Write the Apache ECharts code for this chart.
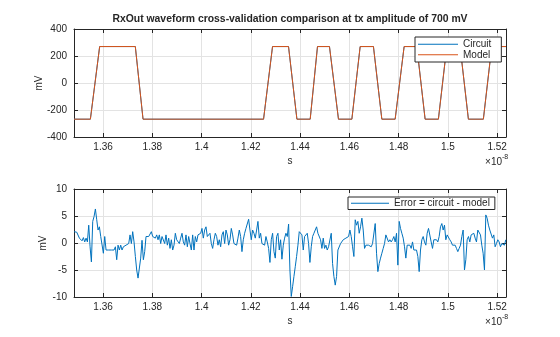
<!DOCTYPE html>
<html>
<head>
<meta charset="utf-8">
<script src="https://cdn.jsdelivr.net/npm/echarts@6/dist/echarts.min.js"></script>
<style>
html,body{margin:0;padding:0;background:#fff;}
#chart{width:560px;height:337px;}
</style>
</head>
<body>
<div id="chart"></div>
<script>
// ---- data (time in units of 1e-8 s) ----
const xTickValues = [1.36, 1.38, 1.40, 1.42, 1.44, 1.46, 1.48, 1.50, 1.52];
const topYTicks = [-400, -200, 0, 200, 400];
const botYTicks = [-10, -5, 0, 5, 10];

// waveform corner times (edge start / edge end)
const wfTime = [1.3482, 1.35485, 1.35862, 1.37310, 1.37623, 1.42516, 1.42881, 1.43530, 1.43871,
  1.44410, 1.44706, 1.45193, 1.45558, 1.46102, 1.46439, 1.46978, 1.47319, 1.47859, 1.48224,
  1.48739, 1.49076, 1.49615, 1.49956, 1.50496, 1.50833, 1.51441, 1.51782, 1.5236];
const wfCircuit = [-268, -268, 270, 270, -268, -268, 270, 270, -268, -268, 270, 270, -268, -268,
  270, 270, -268, -268, 270, 270, -268, -268, 270, 270, -268, -268, 270, 270];
const wfModel = [-268, -268, 270, 270, -268, -268, 270, 270, -268, -268, 270, 270, -268, -268,
  270, 270, -268, -268, 270, 270, -268, -268, 270, 270, -268, -268, 270, 270];

// error samples (mV), sample grid start & step
const errT0 = 1.34823;
const errDt = 0.000541;
const errVals = [
  2.1, 1.8, 2.0, 2.2, 0.9, 1.2, 0.4, 1.0, 0.2, 0.9,
  0.2, 3.3, -0.7, -3.5, 4.0, 4.9, 6.3, 4.3, 2.4, 3.0,
  1.2, 1.5, -1.9, 1.2, -1.3, -1.0, -1.3, -1.0, -1.3, -1.0,
  -1.3, -0.7, -3.1, -0.4, -1.3, -0.4, -1.3, -0.7, -1.0, -0.4,
  -0.7, -0.1, 1.5, -0.1, 2.1, 0.2, -2.5, -5.0, -6.5, -6.2,
  -2.8, 0.5, -3.1, -1.6, 1.2, 0.9, 1.2, 0.9, 2.1, 1.2,
  1.5, 0.9, 1.5, 0.6, 1.5, -0.1, 1.2, 1.5, -0.1, 1.5,
  -0.4, 0.9, -1.0, 0.6, -1.3, -0.4, 1.8, 0.6, 0.9, -0.1,
  0.9, 1.8, 0.2,
  -0.4, 1.5, -0.7, 1.2, -0.1, -1.3, 1.5, -1.3, 1.2, 0.2,
  1.5, 1.2, 1.8, 2.7, 0.9, 2.4, 3.0, 1.2, 0.9, 1.8,
  -0.1, -1.0, 0.6, 1.8, 1.2, -0.4, 0.6, -0.7, 1.5, 2.1,
  -0.1, 2.4, 1.5, -0.4, 0.6, 2.7, 1.5, -0.1, 0.2, -0.4,
  0.9, 2.4, 1.2, -1.6, 0.6, 1.8, 2.7, 2.4, 4.4, 2.4,
  0.6, 2.4, 1.8, 0.9, 2.4, 4.0, 0.9, 1.8, -0.1, 0.2,
  -0.4, 1.2, 0.2, -1.0, -3.6, 0.6, 1.8, -1.6, -2.8, 1.2,
  1.8, -1.3, 0.6, -3.0, -0.4, 0.9, 1.8, 1.2, 3.5, -5.0,
  -9.9,
  -8.1, -6.2, -4.4, -2.5, -0.4, 2.1, 1.8, 1.5, -1.3, 1.2,
  1.5, 1.8, -0.1, -3.6, -0.7, 1.2, 1.8, 2.4, 3.0, 1.8,
  2.1, 0.6, -1.0, 0.9, -1.0, -0.4, -1.3, -0.7, -1.0, 1.8,
  -3.8, -6.2, -7.8, -6.2, -1.3, -1.0, -0.1, 0.2, 0.6, 0.7,
  0.9, 0.6, 1.2, 2.4, 1.2, -0.7, -2.5, 4.3, 3.3, 4.0,
  1.8, 3.0, 4.6, 2.4, -1.0, -0.4, -0.7, -0.4, -0.1, -0.7,
  -0.1, -0.4, 3.6, -1.9, -5.3, -3.8, -2.8, -1.9, -1.0, -0.1,
  1.5, 1.2, 0.2, 0.6, 0.2, 0.6, 1.2, 0.2, 1.8, -4.1,
  4.0,
  2.7, 1.8, 0.9, -0.7, -2.8, -0.4, -0.1, -0.4, -1.0, 0.2,
  -1.3, -1.0, -1.3, -2.5, -5.3, -1.3, 0.6, 1.2, 0.2, -0.4,
  1.8, 2.7, 2.4, 0.2, -1.0, 0.6, 0.9, 0.6, 0.2, 1.2,
  3.0, 3.6, 2.4, 3.3, 0.6, 1.5, 1.2, 0.6, 0.2, -0.4,
  -0.7, -0.4, -1.0, -1.6, -1.0, -0.4, 1.2, 2.4, -5.0, -3.1,
  0.6, 1.2, 0.2, 1.5, 1.2, 1.8, 0.9, 0.2, 2.4, 2.1,
  1.5, -0.4, -1.9, -5.0, 5.2, 4.6, 3.3, 2.4, 2.7, 0.9,
  1.5, -0.7, -0.1, 0.6, 0.2, -0.7, -0.1, 0.2, -0.4, 0.6
];

const titleText = 'RxOut waveform cross-validation comparison at tx amplitude of 700 mV';
const seriesNames = ['Circuit', 'Model', 'Error = circuit - model'];

// ---- chart ----
const X_MIN = 1.3482, X_MAX = 1.5236;
const FONT = '"Liberation Sans", Arial, Helvetica, sans-serif';
const TXT = '#262626';
const GRIDC = '#e3e3e3';
const BLUE = '#0072BD', ORANGE = '#D95319';

const chart = echarts.init(document.getElementById('chart'), null, {renderer: 'canvas'});

function mainX(gi) {
  return {
    type: 'value', gridIndex: gi, min: X_MIN, max: X_MAX, position: 'bottom',
    name: 's', nameLocation: 'middle', nameGap: 19, nameMoveOverlap: false,
    nameTextStyle: {color: TXT, fontSize: 10, fontFamily: FONT},
    axisLine: {show: true, onZero: false, lineStyle: {color: TXT, width: 1}},
    axisTick: {show: true, inside: true, length: 4, customValues: xTickValues, lineStyle: {color: TXT}},
    axisLabel: {show: true, customValues: xTickValues, margin: 5, color: TXT, fontSize: 10, fontFamily: FONT,
      formatter: v => String(+v.toFixed(2))},
    splitLine: {show: true, lineStyle: {color: GRIDC, width: 1}}
  };
}
function topX(gi) {
  return {
    type: 'value', gridIndex: gi, min: X_MIN, max: X_MAX, position: 'top',
    axisLine: {show: true, onZero: false, lineStyle: {color: TXT, width: 1}},
    axisTick: {show: true, inside: true, length: 4, customValues: xTickValues, lineStyle: {color: TXT}},
    axisLabel: {show: false}, splitLine: {show: false}
  };
}
function mainY(gi, min, max, interval, gap) {
  return {
    type: 'value', gridIndex: gi, min: min, max: max, interval: interval, position: 'left',
    name: 'mV', nameLocation: 'middle', nameGap: gap, nameMoveOverlap: false,
    nameTextStyle: {color: TXT, fontSize: 10, fontFamily: FONT},
    axisLine: {show: true, onZero: false, lineStyle: {color: TXT, width: 1}},
    axisTick: {show: true, inside: true, length: 4, lineStyle: {color: TXT}},
    axisLabel: {show: true, margin: 7, color: TXT, fontSize: 10, fontFamily: FONT},
    splitLine: {show: true, lineStyle: {color: GRIDC, width: 1}}
  };
}
function rightY(gi, min, max, interval) {
  return {
    type: 'value', gridIndex: gi, min: min, max: max, interval: interval, position: 'right',
    axisLine: {show: true, onZero: false, lineStyle: {color: TXT, width: 1}},
    axisTick: {show: true, inside: true, length: 4, lineStyle: {color: TXT}},
    axisLabel: {show: false}, splitLine: {show: false}
  };
}

const option = {
  backgroundColor: '#ffffff',
  animation: false,
  grid: [
    {left: 74, right: 54, top: 29, height: 108, containLabel: false},
    {left: 74, right: 54, top: 189, height: 108, containLabel: false}
  ],
  xAxis: [mainX(0), topX(0), mainX(1), topX(1)],
  yAxis: [mainY(0, topYTicks[0], topYTicks[4], 200, 30), rightY(0, -400, 400, 200),
          mainY(1, botYTicks[0], botYTicks[4], 5, 26), rightY(1, -10, 10, 5)],
  legend: [
    {
      data: [seriesNames[0], seriesNames[1]], orient: 'vertical', left: 415, top: 37,
      icon: 'rect', itemWidth: 40, itemHeight: 1, itemGap: 0, padding: [2, 10, 2, 3],
      backgroundColor: '#ffffff', borderColor: TXT, borderWidth: 1, borderRadius: 0,
      textStyle: {color: TXT, fontSize: 10, fontFamily: FONT, lineHeight: 10.5}
    },
    {
      data: [seriesNames[2]], orient: 'vertical', left: 348, top: 197,
      icon: 'rect', itemWidth: 38, itemHeight: 1, padding: [1, 5, 1, 3],
      backgroundColor: '#ffffff', borderColor: TXT, borderWidth: 1, borderRadius: 0,
      textStyle: {color: TXT, fontSize: 10, fontFamily: FONT, lineHeight: 10.5}
    }
  ],
  series: [
    {
      name: seriesNames[0], type: 'line', xAxisIndex: 0, yAxisIndex: 0,
      data: wfTime.map((t, i) => [t, wfCircuit[i]]),
      showSymbol: false, symbol: 'none', lineStyle: {color: BLUE, width: 1}, itemStyle: {color: BLUE}
    },
    {
      name: seriesNames[1], type: 'line', xAxisIndex: 0, yAxisIndex: 0,
      data: wfTime.map((t, i) => [t, wfModel[i]]),
      showSymbol: false, symbol: 'none', lineStyle: {color: ORANGE, width: 1}, itemStyle: {color: ORANGE}
    },
    {
      name: seriesNames[2], type: 'line', xAxisIndex: 2, yAxisIndex: 2,
      data: errVals.map((v, i) => [errT0 + i * errDt, v]),
      showSymbol: false, symbol: 'none', lineStyle: {color: BLUE, width: 1}, itemStyle: {color: BLUE}
    }
  ],
  graphic: [
    {type: 'text', x: 290, y: 19.5, style: {text: titleText, fill: TXT, font: 'bold 10.4px ' + FONT,
      textAlign: 'center', textVerticalAlign: 'middle'}},
    {type: 'text', x: 502, y: 162, style: {text: '×10', fill: TXT, font: '10px ' + FONT,
      textAlign: 'right', textVerticalAlign: 'middle'}},
    {type: 'text', x: 502, y: 157.5, style: {text: '-8', fill: TXT, font: '7px ' + FONT,
      textAlign: 'left', textVerticalAlign: 'middle'}},
    {type: 'text', x: 502, y: 322, style: {text: '×10', fill: TXT, font: '10px ' + FONT,
      textAlign: 'right', textVerticalAlign: 'middle'}},
    {type: 'text', x: 502, y: 317.5, style: {text: '-8', fill: TXT, font: '7px ' + FONT,
      textAlign: 'left', textVerticalAlign: 'middle'}}
  ]
};
chart.setOption(option);
</script>
</body>
</html>
